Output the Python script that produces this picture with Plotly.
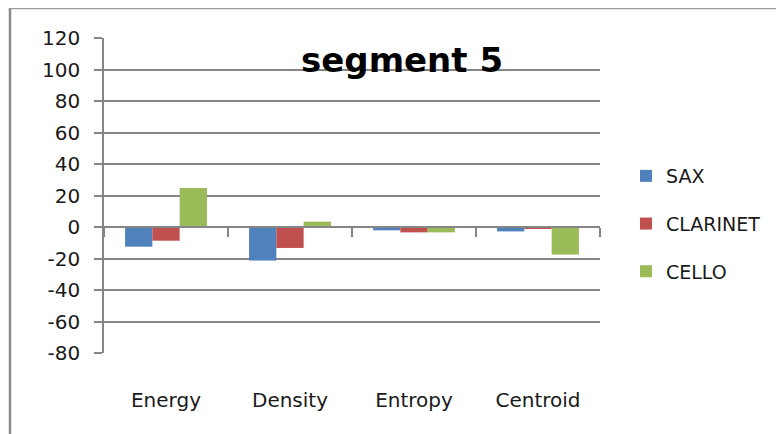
import plotly.graph_objects as go

categories = ["Energy", "Density", "Entropy", "Centroid"]
sax = [-12.5, -21.3, -2.1, -2.8]
clarinet = [-8.7, -13.3, -3.4, -1.0]
cello = [24.8, 3.4, -3.4, -17.5]
series_names = ["SAX", "CLARINET", "CELLO"]
colors = ["#4F81BD", "#C0504D", "#9BBB59"]
y_ticks = [120, 100, 80, 60, 40, 20, 0, -20, -40, -60, -80]

# page offset (default body margin) compensation
OFF = 8
W, H = 784 - OFF, 434 - OFF
L, T = 104 - OFF, 38 - OFF
pw, ph = 496, 315
R, B = W - L - pw, H - T - ph

def px_x(x):
    return (x - OFF - L) / pw

def px_y(y):
    return (T + ph - (y - OFF)) / ph

fig = go.Figure()
for name, vals, col in zip(series_names, [sax, clarinet, cello], colors):
    fig.add_trace(go.Bar(x=categories, y=vals, name=name, marker_color=col,
                         marker_line_width=0, legendgroup=name))

grid = "#868686"
font = "DejaVu Sans"
ymin, ymax = -80, 120
zero_pos = (0 - ymin) / (ymax - ymin)

fig.update_layout(
    width=W, height=H,
    margin=dict(l=L, r=R, t=T, b=B),
    paper_bgcolor="white", plot_bgcolor="white",
    barmode="group", bargap=0.34, bargroupgap=0,
    font=dict(family=font, size=19, color="#1a1a1a"),
    showlegend=True,
    legend=dict(x=px_x(626), y=px_y(157), xanchor="left", yanchor="top",
                tracegroupgap=20, font=dict(size=19), bgcolor="rgba(0,0,0,0)",
                itemwidth=30),
    xaxis=dict(type="category", anchor="free", position=zero_pos,
               showline=True, linecolor=grid, linewidth=2,
               ticks="outside", tickson="boundaries", ticklen=9, tickcolor=grid,
               tickwidth=2, showgrid=False, zeroline=False,
               ticklabelstandoff=155, tickfont=dict(size=20)),
    yaxis=dict(range=[ymin, ymax], tickvals=y_ticks, ticktext=[str(v) for v in y_ticks],
               showgrid=True, gridcolor=grid, gridwidth=1.5,
               showline=True, linecolor=grid, linewidth=1.5,
               ticks="outside", ticklen=8, tickcolor=grid, tickwidth=1.5,
               ticklabelstandoff=10,
               zeroline=False, tickfont=dict(size=20)),
    annotations=[dict(text="<b>segment 5</b>", xref="paper", yref="paper",
                      x=px_x(402), y=px_y(60), xanchor="center", yanchor="middle",
                      showarrow=False, font=dict(family=font, size=34, color="black"))],
    shapes=[
        dict(type="line", xref="paper", yref="paper", x0=px_x(10), x1=px_x(10),
             y0=px_y(8), y1=px_y(440), line=dict(color="#8a8a8a", width=2.5)),
        dict(type="line", xref="paper", yref="paper", x0=px_x(10), x1=px_x(790),
             y0=px_y(8.5), y1=px_y(8.5), line=dict(color="#9a9a9a", width=1.5)),
    ],
)

fig.write_html("out.html")
